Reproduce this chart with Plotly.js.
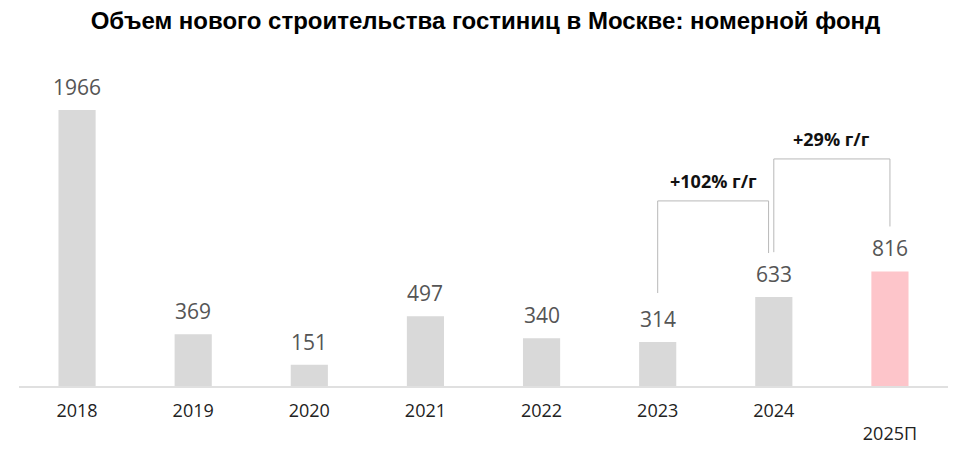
<!DOCTYPE html>
<html>
<head>
<meta charset="utf-8">
<script src="https://cdn.plot.ly/plotly-3.0.1.min.js"></script>
<style>html,body{margin:0;padding:0;background:#fff;}#chart{width:971px;height:452px;}</style>
</head>
<body>
<div id="chart"></div>
<script>
const categories = ["2018","2019","2020","2021","2022","2023","2024","2025П"];
const tickLabels = ["2018","2019","2020","2021","2022","2023","2024","<br>2025П"];
const values = [1966, 369, 151, 497, 340, 314, 633, 816];
const barColors = ["#d9d9d9","#d9d9d9","#d9d9d9","#d9d9d9","#d9d9d9","#d9d9d9","#d9d9d9","#fdc5ca"];
// growth brackets: from index, to index, label
const growthFrom = [5, 6];
const growthTo = [6, 7];
const growthLabels = ["+102% г/г", "+29% г/г"];
const bracketTop = [1318, 1617];

const labelClear = 320; // value units above bar where bracket ends

const valueAnnotations = categories.map((c, i) => ({
  x: i, y: values[i], xref: 'x', yref: 'y',
  text: String(values[i]), showarrow: false,
  yanchor: 'bottom', yshift: 7,
  font: {family: 'Open Sans', size: 21, color: '#555'}
}));

const shapes = [];
const growthAnnotations = [];
growthFrom.forEach((a, k) => {
  const b = growthTo[k];
  const xa = a;
  const xb = b - (k === 0 ? 0.045 : 0);
  const ya = values[a] + (k === 0 ? 348 : labelClear);
  const yb = values[b] + labelClear - (k === 0 ? 6 : 0);
  const lineStyle = {color: '#b8b8b8', width: 1};
  shapes.push({type: 'path', xref: 'x', yref: 'y',
    path: `M ${xa} ${ya} L ${xa} ${bracketTop[k]} L ${xb} ${bracketTop[k]} L ${xb} ${yb}`,
    line: lineStyle});
  growthAnnotations.push({
    x: (xa + xb) / 2, y: bracketTop[k], xref: 'x', yref: 'y',
    text: '<b>' + growthLabels[k] + '</b>', showarrow: false,
    yanchor: 'bottom', yshift: 6,
    font: {family: 'Open Sans', size: 18, color: '#111'}
  });
});

const trace = {
  type: 'bar', x: categories, y: values,
  marker: {color: barColors},
  hoverinfo: 'skip'
};

const layout = {
  width: 971, height: 452,
  margin: {l: 19, r: 23, t: 40, b: 66},
  paper_bgcolor: '#fff', plot_bgcolor: '#fff',
  showlegend: false,
  bargap: 0.68,
  title: {
    text: '<b>Объем нового строительства гостиниц в Москве: номерной фонд</b>',
    font: {family: 'Liberation Sans', size: 24, color: '#000'},
    x: 0.5, xanchor: 'center', y: 0.955, yanchor: 'middle'
  },
  xaxis: {
    type: 'category', categoryorder: 'array', categoryarray: categories,
    tickvals: categories, ticktext: tickLabels,
    showline: true, linecolor: '#e0e0e0', linewidth: 2,
    ticks: '', showgrid: false, zeroline: false,
    ticklabelstandoff: 7,
    tickfont: {family: 'Open Sans', size: 18, color: '#222'},
    range: [-0.5, 7.5], fixedrange: true
  },
  yaxis: {
    range: [0, 2464], visible: false, showgrid: false, zeroline: false, fixedrange: true
  },
  shapes: shapes,
  annotations: valueAnnotations.concat(growthAnnotations)
};

Plotly.newPlot('chart', [trace], layout, {displayModeBar: false, staticPlot: true});
</script>
</body>
</html>
